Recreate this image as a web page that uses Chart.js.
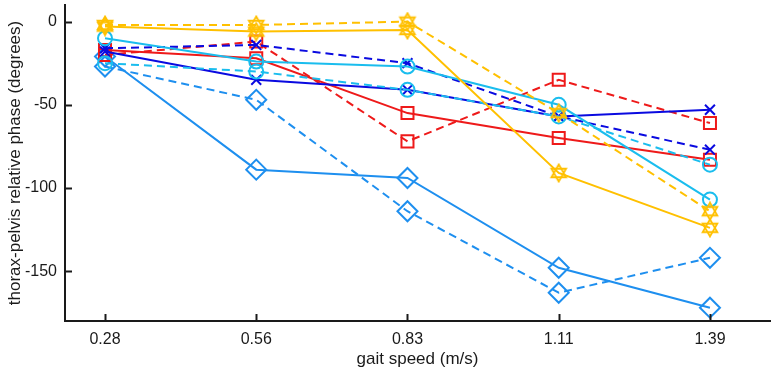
<!DOCTYPE html>
<html>
<head>
<meta charset="utf-8">
<script src="https://cdn.jsdelivr.net/npm/chart.js@4"></script>
<style>
  html, body { margin: 0; padding: 0; background: #fff; }
  #wrap { width: 773px; height: 370px; }
</style>
</head>
<body>
<div id="wrap"><canvas id="phaseChart" width="773" height="370"></canvas></div>
<script>
// gait speeds (m/s), shown as evenly spaced categories
const speeds = ['0.28', '0.56', '0.83', '1.11', '1.39'];
const yTicks = [0, -50, -100, -150];

// thorax-pelvis relative phase (degrees), solid / dashed pairs
const yellowSolid = [-3, -6, -5, -91, -124];
const yellowDashed = [-2, -2, 0, -55, -114];
const cyanSolid = [-10, -24, -27, -50, -107];
const cyanDashed = [-25, -30, -41, -57, -86];
const blueSolid = [-18, -35, -41, -57, -53];
const blueDashed = [-16, -14, -25, -57, -77];
const redSolid = [-17, -22, -55, -70, -83];
const redDashed = [-20, -12, -72, -35, -61];
const azureSolid = [-21, -89, -94, -148, -172];
const azureDashed = [-27, -47, -114, -163, -142];

const YELLOW = '#FFC000';
const CYAN = '#1ABDEE';
const BLUE = '#0A0AE0';
const RED = '#EE1A1A';
const AZURE = '#1E8FEF';
const AXIS = '#1a1a1a';
const FONT = "'Liberation Sans', Arial, sans-serif";

// hexagram marker (two overlapping triangles)
function hexagram(color) {
    const c = document.createElement('canvas');
    c.width = 20; c.height = 20;
    const g = c.getContext('2d');
    g.strokeStyle = color;
    g.lineWidth = 1.8;
    const cx = 10, cy = 10, r = 8.5;
    [0, Math.PI].forEach(off => {
        g.beginPath();
        for (let k = 0; k < 3; k++) {
            const a = off - Math.PI / 2 + k * 2 * Math.PI / 3;
            const px = cx + r * Math.cos(a), py = cy + r * Math.sin(a);
            k === 0 ? g.moveTo(px, py) : g.lineTo(px, py);
        }
        g.closePath();
        g.stroke();
    });
    return c;
}
const star = hexagram(YELLOW);

function series(values, color, dashed, pointStyle, radius) {
    return {
        data: values.map((v, i) => ({ x: i + 1, y: v })),
        borderColor: color,
        backgroundColor: 'rgba(0,0,0,0)',
        borderWidth: 2,
        borderDash: dashed ? [8, 5] : [],
        pointStyle: pointStyle,
        pointRadius: radius,
        pointBorderWidth: 2,
        pointBorderColor: color,
        pointBackgroundColor: 'rgba(0,0,0,0)',
        tension: 0
    };
}

// inward MATLAB-style tick marks
const inwardTicks = {
    id: 'inwardTicks',
    afterDraw(chart) {
        const { ctx, chartArea, scales } = chart;
        ctx.save();
        ctx.strokeStyle = AXIS;
        ctx.lineWidth = 2;
        yTicks.forEach(v => {
            const y = Math.round(scales.y.getPixelForValue(v)) + 0.5;
            ctx.beginPath();
            ctx.moveTo(chartArea.left, y);
            ctx.lineTo(chartArea.left + 7, y);
            ctx.stroke();
        });
        speeds.forEach((s, i) => {
            const x = Math.round(scales.x.getPixelForValue(i + 1)) + 0.5;
            ctx.beginPath();
            ctx.moveTo(x, chartArea.bottom);
            ctx.lineTo(x, chartArea.bottom - 7);
            ctx.stroke();
        });
        ctx.restore();
    }
};

const ctx = document.getElementById('phaseChart').getContext('2d');
const phaseChart = new Chart(ctx, {
    type: 'line',
    data: {
        datasets: [
            series(yellowSolid, YELLOW, false, star, 9),
            series(yellowDashed, YELLOW, true, star, 9),
            series(cyanSolid, CYAN, false, 'circle', 7),
            series(cyanDashed, CYAN, true, 'circle', 7),
            series(blueSolid, BLUE, false, 'crossRot', 7),
            series(blueDashed, BLUE, true, 'crossRot', 7),
            series(redSolid, RED, false, 'rect', 8.5),
            series(redDashed, RED, true, 'rect', 8.5),
            series(azureSolid, AZURE, false, 'rectRot', 10),
            series(azureDashed, AZURE, true, 'rectRot', 10)
        ]
    },
    options: {
        responsive: false,
        animation: false,
        layout: { autoPadding: false, padding: { top: 5, right: 3, left: 0, bottom: 0 } },
        plugins: {
            legend: { display: false },
            tooltip: { enabled: false }
        },
        scales: {
            x: {
                type: 'linear',
                min: 0.7355,
                max: 5.397,
                afterBuildTicks: scale => {
                    scale.ticks = speeds.map((s, i) => ({ value: i + 1 }));
                },
                afterFit: scale => {
                    scale.height = 49;
                    scale.paddingLeft = 0;
                    scale.paddingRight = 0;
                },
                ticks: {
                    autoSkip: false,
                    maxRotation: 0,
                    padding: 9,
                    color: AXIS,
                    font: { family: FONT, size: 16 },
                    callback: v => speeds[v - 1]
                },
                grid: { display: false, drawTicks: false },
                border: { display: true, color: AXIS, width: 2 },
                title: {
                    display: true,
                    text: 'gait speed (m/s)',
                    color: AXIS,
                    padding: { top: 0, bottom: 0 },
                    font: { family: FONT, size: 17 }
                }
            },
            y: {
                min: -180,
                max: 10,
                afterBuildTicks: scale => {
                    scale.ticks = yTicks.map(v => ({ value: v }));
                },
                afterFit: scale => {
                    scale.width = 65;
                    scale.paddingTop = 0;
                    scale.paddingBottom = 0;
                },
                ticks: {
                    padding: 8,
                    color: AXIS,
                    font: { family: FONT, size: 16 }
                },
                grid: { display: false, drawTicks: false },
                border: { display: true, color: AXIS, width: 2 },
                title: {
                    display: true,
                    text: 'thorax-pelvis relative phase (degrees)',
                    color: AXIS,
                    padding: { top: 5, bottom: 0 },
                    font: { family: FONT, size: 17 }
                }
            }
        }
    },
    plugins: [inwardTicks]
});
</script>
</body>
</html>
